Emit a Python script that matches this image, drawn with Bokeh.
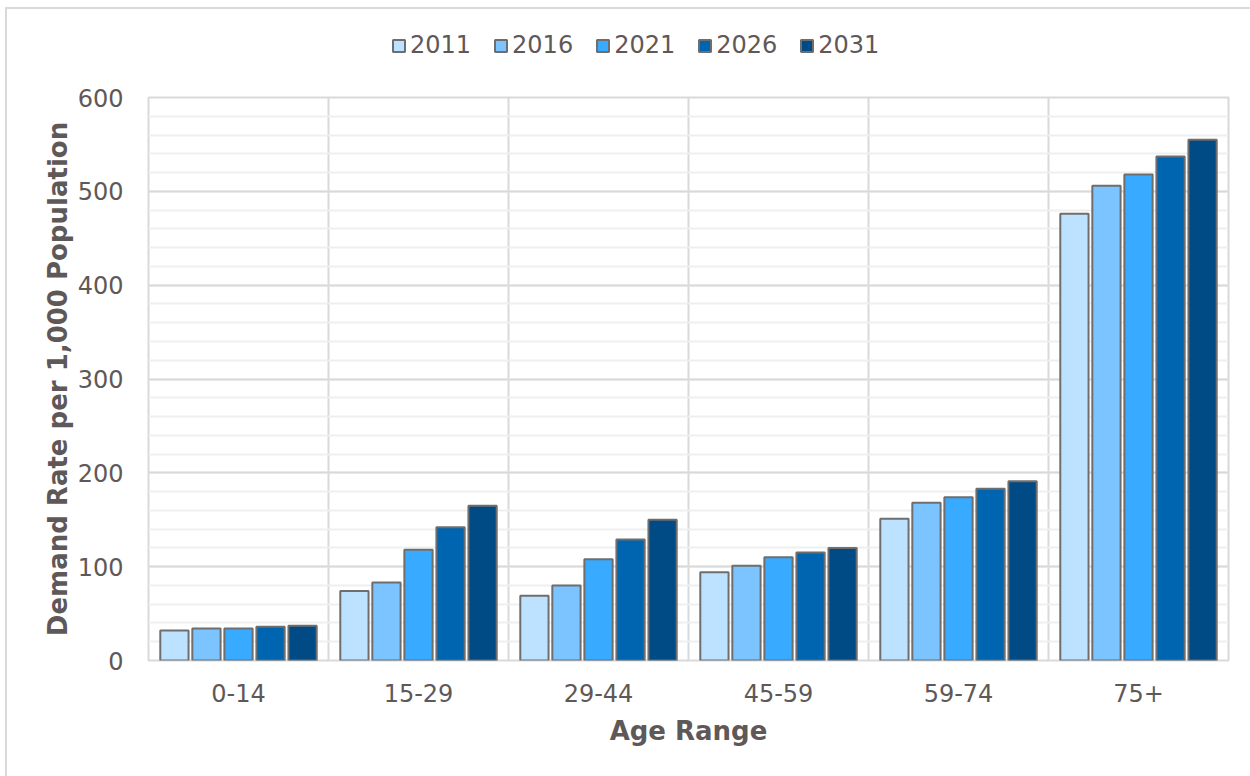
from bokeh.plotting import figure
from bokeh.layouts import column
from bokeh.models import (ColumnDataSource, Legend, LegendItem, FixedTicker,
                          SingleIntervalTicker, Range1d)
from bokeh.embed import file_html
from bokeh.resources import INLINE

# Demand rate per 1,000 population by age band and projection year
age_ranges = ["0-14", "15-29", "29-44", "45-59", "59-74", "75+"]
years = ["2011", "2016", "2021", "2026", "2031"]
rate_2011 = [32, 74, 69, 94, 151, 476]
rate_2016 = [34, 83, 80, 101, 168, 506]
rate_2021 = [34, 118, 108, 110, 174, 518]
rate_2026 = [36, 142, 129, 115, 183, 537]
rate_2031 = [37, 165, 150, 120, 191, 555]
series = [rate_2011, rate_2016, rate_2021, rate_2026, rate_2031]
colors = ["#BDE2FF", "#7BC4FF", "#38AAFF", "#0065B0", "#004B85"]

TEXT = "#5f5858"
FONT = "DejaVu Sans"
OUTLINE = "#6e6e6e"
W = 1243

p = figure(width=W, height=695, output_backend="svg", toolbar_location=None,
           x_range=Range1d(0, len(age_ranges)), y_range=Range1d(0, 600),
           min_border_left=141, min_border_right=22,
           min_border_top=16, min_border_bottom=116,
           background_fill_color="white", border_fill_color="white")
p.outline_line_color = "#d9d9d9"
p.outline_line_width = 2

pitch = 0.178
bar_w = 0.157
centers = [i + 0.5 for i in range(len(age_ranges))]
for k, (vals, col) in enumerate(zip(series, colors)):
    off = (k - 2) * pitch
    src = ColumnDataSource(dict(x=[c + off for c in centers], top=vals))
    p.vbar(x="x", top="top", bottom=0, width=bar_w, source=src,
           fill_color=col, line_color=OUTLINE, line_width=2)

# axes
p.xaxis.ticker = FixedTicker(ticks=centers)
p.xaxis.major_label_overrides = {c: a for c, a in zip(centers, age_ranges)}
p.yaxis.ticker = SingleIntervalTicker(interval=100, num_minor_ticks=5)
for ax in (p.xaxis[0], p.yaxis[0]):
    ax.axis_line_color = None
    ax.major_tick_line_color = None
    ax.minor_tick_line_color = None
    ax.major_label_text_font = FONT
    ax.major_label_text_font_size = "24px"
    ax.major_label_text_color = TEXT
    ax.axis_label_text_font = FONT
    ax.axis_label_text_font_size = "26px"
    ax.axis_label_text_font_style = "bold"
    ax.axis_label_text_color = TEXT
p.xaxis.axis_label = "Age Range"
p.yaxis.axis_label = "Demand Rate per 1,000 Population"
p.xaxis.major_label_standoff = 17
p.yaxis.major_label_standoff = 19
p.xaxis.axis_label_standoff = 11
p.yaxis.axis_label_standoff = 2

# grid: vertical lines between age bands, major/minor horizontal lines
p.xgrid.ticker = FixedTicker(ticks=list(range(1, len(age_ranges))))
p.xgrid.grid_line_color = "#d9d9d9"
p.xgrid.grid_line_width = 2
p.ygrid.grid_line_color = "#d9d9d9"
p.ygrid.grid_line_width = 2
p.ygrid.minor_grid_line_color = "#efefef"
p.ygrid.minor_grid_line_width = 2

# legend strip above the chart; swatch glyphs carry no drawable data
nan = float("nan")
leg = figure(width=W, height=72, output_backend="svg", toolbar_location=None,
             x_range=Range1d(0, 1), y_range=Range1d(0, 1),
             x_axis_type=None, y_axis_type=None,
             min_border_left=0, min_border_right=0,
             min_border_top=0, min_border_bottom=0,
             background_fill_color="white", border_fill_color="white")
leg.outline_line_color = None
leg.grid.visible = False
items = []
for yr, col in zip(years, colors):
    r = leg.vbar(x=[nan], top=[nan], bottom=nan, width=0.1, fill_color=col,
                 line_color=OUTLINE, line_width=2)
    items.append(LegendItem(label=yr, renderers=[r]))
legend = Legend(items=items, orientation="horizontal", location="center_left",
                glyph_width=15, glyph_height=15, label_standoff=4, spacing=22,
                padding=0, margin=243, border_line_color=None,
                background_fill_alpha=0,
                label_text_font=FONT, label_text_font_size="24px",
                label_text_color=TEXT)
leg.add_layout(legend, "center")

layout = column(leg, p, spacing=0)
layout.styles = {"margin-left": "5px", "margin-top": "7px",
                 "border-left": "2px solid #d9d9d9",
                 "border-top": "2px solid #d9d9d9"}

open("out.html", "w").write(file_html(layout, INLINE))
